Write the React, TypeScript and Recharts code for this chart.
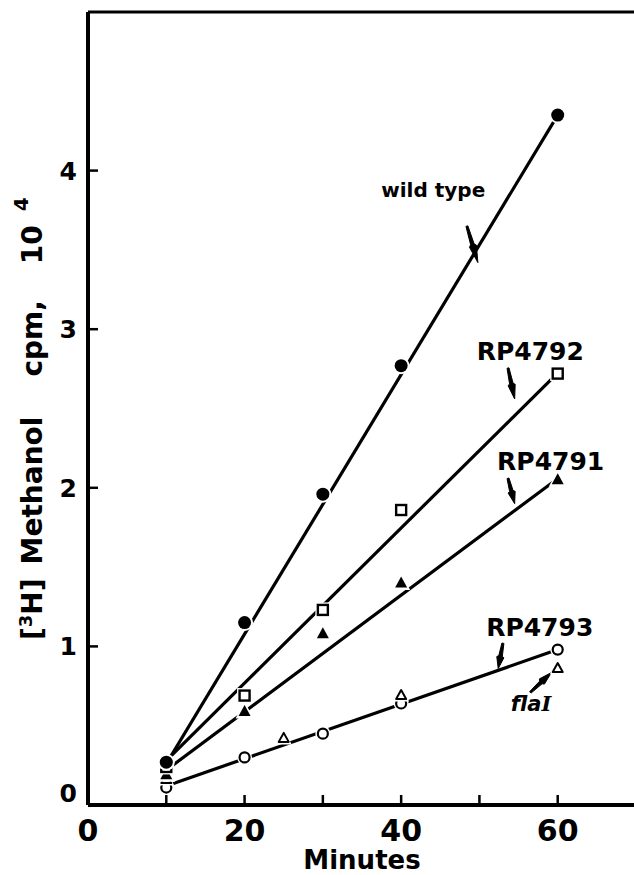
import { ComposedChart, Line, Scatter, XAxis, YAxis, ReferenceLine, ReferenceDot } from "recharts"

// minutes
const timeTicks = [0, 10, 20, 30, 40, 50, 60, 70]
const timeLabels = [0, 20, 40, 60]
// cpm x 10^4
const cpmTicks = [0, 1, 2, 3, 4]

// measured points
const wildType = [
  { x: 10, y: 0.27 },
  { x: 20, y: 1.15 },
  { x: 30, y: 1.96 },
  { x: 40, y: 2.77 },
  { x: 60, y: 4.35 },
]
const rp4792 = [
  { x: 10, y: 0.24 },
  { x: 20, y: 0.69 },
  { x: 30, y: 1.23 },
  { x: 40, y: 1.86 },
  { x: 60, y: 2.72 },
]
const rp4791 = [
  { x: 10, y: 0.19 },
  { x: 20, y: 0.59 },
  { x: 30, y: 1.08 },
  { x: 40, y: 1.4 },
  { x: 60, y: 2.05 },
]
const rp4793 = [
  { x: 10, y: 0.11 },
  { x: 20, y: 0.3 },
  { x: 30, y: 0.45 },
  { x: 40, y: 0.64 },
  { x: 60, y: 0.98 },
]
const flaI = [
  { x: 10, y: 0.16 },
  { x: 25, y: 0.42 },
  { x: 40, y: 0.69 },
  { x: 60, y: 0.86 },
]

// hand drawn lines through the points
const wildTypeLine = [{ x: 10, y: 0.26 }, { x: 60, y: 4.35 }]
const rp4792Line = [{ x: 10, y: 0.28 }, { x: 59.5, y: 2.7 }]
const rp4791Line = [{ x: 10, y: 0.22 }, { x: 59.5, y: 2.04 }]
const rp4793Line = [{ x: 10, y: 0.12 }, { x: 60, y: 0.98 }]

// text labels + arrows (data coords)
const labels = [
  { text: "wild type", x: 44.1, y: 3.88, size: 20 },
  { text: "RP4792", x: 56.5, y: 2.86, size: 25 },
  { text: "RP4791", x: 59.1, y: 2.17, size: 25 },
  { text: "RP4793", x: 57.7, y: 1.12, size: 25 },
]
const arrows = [
  { x1: 48.4, y1: 3.65, x2: 49.8, y2: 3.42 },
  { x1: 53.65, y1: 2.755, x2: 54.5, y2: 2.56 },
  { x1: 53.65, y1: 2.06, x2: 54.5, y2: 1.9 },
  { x1: 53.0, y1: 1.02, x2: 52.4, y2: 0.86 },
  { x1: 56.5, y1: 0.71, x2: 59.2, y2: 0.835 },
]

const font = "DejaVu Sans"

function BottomTick({ x, y, payload }: any) {
  const v = payload.value
  return (
    <g>
      {v > 0 && v < 70 && <line x1={x} x2={x} y1={y} y2={y - 10} stroke="#000" strokeWidth={2.5} />}
      {timeLabels.includes(v) && (
        <text x={x} y={y + 36} textAnchor="middle" fontFamily={font} fontWeight="bold" fontSize={30} fill="#000">
          {v}
        </text>
      )}
    </g>
  )
}

function TopTick({ x, y, payload }: any) {
  const v = payload.value
  if (v <= 0 || v >= 70) return <g />
  return <line x1={x} x2={x} y1={y} y2={y + 10} stroke="#000" strokeWidth={2.5} />
}

function LeftTick({ x, y, payload }: any) {
  const v = payload.value
  return (
    <g>
      {v > 0 && <line x1={x} x2={x + 10} y1={y} y2={y} stroke="#000" strokeWidth={2.5} />}
      <text x={x - 11} y={v === 0 ? y - 12 : y} dy="0.36em" textAnchor="end" fontFamily={font} fontWeight="bold" fontSize={25} fill="#000">
        {v}
      </text>
    </g>
  )
}

function RightTick({ x, y, payload }: any) {
  const v = payload.value
  if (v <= 0) return <g />
  return <line x1={x} x2={x - 10} y1={y} y2={y} stroke="#000" strokeWidth={2.5} />
}

function YLabel() {
  return (
    <text transform="translate(42, 640) rotate(-90)" fontFamily={font} fontWeight="bold" fontSize={28} fill="#000">
      <tspan>[</tspan>
      <tspan fontSize={18} dy={-10}>3</tspan>
      <tspan dy={10}>H]</tspan>
      <tspan dx={14}>Methanol</tspan>
      <tspan dx={40}>cpm,</tspan>
      <tspan dx={36}>10</tspan>
      <tspan dx={14} fontSize={20} dy={-14}>4</tspan>
    </text>
  )
}

// markers, white halo gives the little gaps in the lines
function FilledCircle({ cx, cy }: any) {
  return (
    <g>
      <circle cx={cx} cy={cy} r={8.5} fill="#fff" />
      <circle cx={cx} cy={cy} r={6.5} fill="#000" />
    </g>
  )
}
function OpenSquare({ cx, cy }: any) {
  return (
    <g>
      <rect x={cx - 7.5} y={cy - 7.5} width={15} height={15} fill="#fff" />
      <rect x={cx - 5} y={cy - 5} width={10} height={10} fill="#fff" stroke="#000" strokeWidth={2.4} />
    </g>
  )
}
function FilledTriangle({ cx, cy }: any) {
  return (
    <g>
      <path d={`M${cx},${cy - 10} L${cx + 9},${cy + 7} L${cx - 9},${cy + 7}Z`} fill="#fff" />
      <path d={`M${cx},${cy - 6.5} L${cx + 6},${cy + 4.5} L${cx - 6},${cy + 4.5}Z`} fill="#000" />
    </g>
  )
}
function OpenCircle({ cx, cy }: any) {
  return (
    <g>
      <circle cx={cx} cy={cy} r={7.5} fill="#fff" />
      <circle cx={cx} cy={cy} r={5} fill="#fff" stroke="#000" strokeWidth={2.2} />
    </g>
  )
}
function OpenTriangle({ cx, cy }: any) {
  return (
    <g>
      <path d={`M${cx},${cy - 9} L${cx + 8},${cy + 6} L${cx - 8},${cy + 6}Z`} fill="#fff" />
      <path d={`M${cx},${cy - 5.5} L${cx + 5},${cy + 3.5} L${cx - 5},${cy + 3.5}Z`} fill="#fff" stroke="#000" strokeWidth={2} strokeLinejoin="round" />
    </g>
  )
}

// tapered hand drawn arrow
function Arrow({ x1, y1, x2, y2 }: any) {
  const dx = x2 - x1
  const dy = y2 - y1
  const len = Math.sqrt(dx * dx + dy * dy)
  const ux = dx / len
  const uy = dy / len
  const nx = -uy
  const ny = ux
  const at = (t: number, w: number) => `${x1 + ux * len * t + nx * w},${y1 + uy * len * t + ny * w}`
  const d = `M${at(0, 1)} L${at(0.5, 1.8)} L${at(0.55, 3.6)} L${x2},${y2} L${at(0.55, -3.6)} L${at(0.5, -1.8)} L${at(0, -1)}Z`
  return <path d={d} fill="#000" stroke="#000" strokeWidth={1} strokeLinejoin="round" />
}

function LabelText({ cx, cy, text, size }: any) {
  return (
    <text x={cx} y={cy} dy="0.36em" textAnchor="middle" fontFamily={font} fontWeight="bold" fontSize={size} fill="#000">
      {text}
    </text>
  )
}

function FlaLabel({ cx, cy }: any) {
  return (
    <text x={cx} y={cy} dy="0.36em" textAnchor="middle" fontFamily={font} fontWeight="bold" fontStyle="italic" fontSize={21} fill="#000">
      fla<tspan fontFamily="DejaVu Serif">I</tspan>
    </text>
  )
}

export default function App() {
  return (
    <div style={{ width: 634, height: 875, overflow: "hidden", background: "#fff" }}>
      <style>{"body{margin:0}"}</style>
      <ComposedChart width={640} height={875} margin={{ top: 0, right: 0, bottom: 0, left: 0 }}>
        <XAxis
          xAxisId="b"
          dataKey="x"
          type="number"
          domain={[0, 70]}
          ticks={timeTicks}
          interval={0}
          height={70}
          tickSize={0}
          tickMargin={0}
          tick={BottomTick}
          axisLine={{ stroke: "#000", strokeWidth: 4 }}
          label={{ value: "Minutes", position: "insideBottom", offset: 6, fill: "#000", fontFamily: font, fontWeight: "bold", fontSize: 26 }}
        />
        <XAxis
          xAxisId="t"
          orientation="top"
          dataKey="x"
          type="number"
          domain={[0, 70]}
          ticks={timeTicks}
          interval={0}
          height={12}
          tickSize={0}
          tickMargin={0}
          tick={TopTick}
          axisLine={{ stroke: "#000", strokeWidth: 3 }}
        />
        <YAxis
          yAxisId="l"
          dataKey="y"
          type="number"
          domain={[0, 5]}
          ticks={cpmTicks}
          interval={0}
          width={88}
          tickSize={0}
          tickMargin={0}
          tick={LeftTick}
          axisLine={{ stroke: "#000", strokeWidth: 4 }}
          label={{ content: YLabel }}
        />
        <YAxis
          yAxisId="r"
          orientation="right"
          dataKey="y"
          type="number"
          domain={[0, 5]}
          ticks={cpmTicks}
          interval={0}
          width={4}
          tickSize={0}
          tickMargin={0}
          tick={RightTick}
          axisLine={{ stroke: "#000", strokeWidth: 3 }}
        />

        <Line xAxisId="b" yAxisId="l" data={wildTypeLine} dataKey="y" type="linear" stroke="#000" strokeWidth={3.2} dot={false} isAnimationActive={false} />
        <Line xAxisId="b" yAxisId="l" data={rp4792Line} dataKey="y" type="linear" stroke="#000" strokeWidth={3.2} dot={false} isAnimationActive={false} />
        <Line xAxisId="b" yAxisId="l" data={rp4791Line} dataKey="y" type="linear" stroke="#000" strokeWidth={3.2} dot={false} isAnimationActive={false} />
        <Line xAxisId="b" yAxisId="l" data={rp4793Line} dataKey="y" type="linear" stroke="#000" strokeWidth={3.2} dot={false} isAnimationActive={false} />

        <Scatter xAxisId="b" yAxisId="l" data={rp4793} shape={OpenCircle} isAnimationActive={false} />
        <Scatter xAxisId="b" yAxisId="l" data={flaI} shape={OpenTriangle} isAnimationActive={false} />
        <Scatter xAxisId="b" yAxisId="l" data={rp4791} shape={FilledTriangle} isAnimationActive={false} />
        <Scatter xAxisId="b" yAxisId="l" data={rp4792} shape={OpenSquare} isAnimationActive={false} />
        <Scatter xAxisId="b" yAxisId="l" data={wildType} shape={FilledCircle} isAnimationActive={false} />

        {labels.map((l) => (
          <ReferenceDot
            key={l.text}
            xAxisId="b"
            yAxisId="l"
            x={l.x}
            y={l.y}
            r={1}
            shape={(p: any) => <LabelText {...p} text={l.text} size={l.size} />}
          />
        ))}
        <ReferenceDot xAxisId="b" yAxisId="l" x={56.6} y={0.64} r={1} shape={FlaLabel} />
        {arrows.map((a, i) => (
          <ReferenceLine
            key={i}
            xAxisId="b"
            yAxisId="l"
            segment={[{ x: a.x1, y: a.y1 }, { x: a.x2, y: a.y2 }]}
            shape={Arrow}
          />
        ))}
      </ComposedChart>
    </div>
  )
}
